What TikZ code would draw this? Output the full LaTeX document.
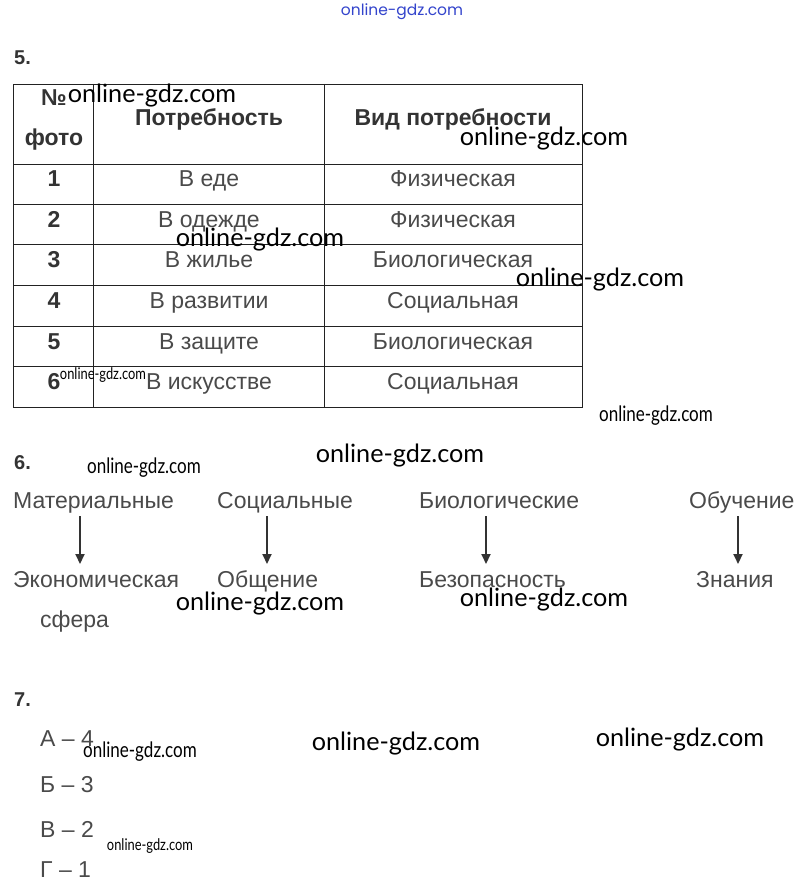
\documentclass[tikz,border=0pt]{standalone}
\usepackage{fontspec}
\setmainfont{Liberation Sans}
\newfontfamily\wmfont{Lato}
\newfontfamily\wmcond[FakeStretch=0.8]{Lato}
\newfontfamily\topwm{Poppins}
\usetikzlibrary{arrows.meta}
\definecolor{txt}{HTML}{4A4A4A}
\definecolor{hdr}{HTML}{333333}
\definecolor{grid}{HTML}{222222}
\definecolor{wmblue}{HTML}{3344CC}
\tikzset{
  body/.style={font=\fontsize{23}{26}\selectfont, text=txt, inner sep=0pt, anchor=base},
  bodyw/.style={body, anchor=base west},
  head/.style={font=\fontsize{23}{26}\selectfont\bfseries, text=hdr, inner sep=0pt, anchor=base},
  secnum/.style={font=\fontsize{20}{24}\selectfont\bfseries, text=hdr, inner sep=0pt, anchor=base west},
  wm/.style={font=\wmfont\fontsize{25.2}{28}\selectfont, text=black, inner sep=0pt},
  wms/.style={font=\wmcond\fontsize{21.3}{24}\selectfont, text=black, inner sep=0pt},
  wmxs/.style={font=\wmcond\fontsize{16.1}{18}\selectfont, text=black, inner sep=0pt},
  tline/.style={draw=grid, line width=0.9pt},
  arr/.style={draw=hdr, line width=2pt, -{Triangle[length=10pt,width=9pt]}}
}
\begin{document}
\begin{tikzpicture}[x=1pt,y=-1pt]
\useasboundingbox[fill=white] (0,0) rectangle (804,893);
% top watermark
\node[font=\topwm\fontsize{15.5}{18}\selectfont, text=wmblue, inner sep=0pt] (wm0) at (402,12) {online-gdz.com};
% ---------- 5 ----------
\node[secnum] (s5) at (14,65) {5.};
% table grid
\draw[tline] (13,84) rectangle (582,407);
\draw[tline] (93,84) -- (93,407);
\draw[tline] (324,84) -- (324,407);
\foreach \yy in {164,204,244,285,326,366} \draw[tline] (13,\yy) -- (582,\yy);
% header
\node[head] (hno) at (54,106) {№};
\node[head] (hfoto) at (54,146) {фото};
\node[head] (hneed) at (209,126) {Потребность};
\node[head] (hkind) at (453,126) {Вид потребности};
% rows
\node[head] (n1) at (54,187) {1};
\node[body] (p1) at (209,187) {В еде};
\node[body] (k1) at (453,187) {Физическая};
\node[head] (n2) at (54,227) {2};
\node[body] (p2) at (209,227) {В одежде};
\node[body] (k2) at (453,227) {Физическая};
\node[head] (n3) at (54,267) {3};
\node[body] (p3) at (209,267) {В жилье};
\node[body] (k3) at (453,267) {Биологическая};
\node[head] (n4) at (54,308) {4};
\node[body] (p4) at (209,308) {В развитии};
\node[body] (k4) at (453,308) {Социальная};
\node[head] (n5) at (54,349) {5};
\node[body] (p5) at (209,349) {В защите};
\node[body] (k5) at (453,349) {Биологическая};
\node[head] (n6) at (54,389) {6};
\node[body] (p6) at (209,389) {В искусстве};
\node[body] (k6) at (453,389) {Социальная};
% ---------- 6 ----------
\node[secnum] (s6) at (14,469) {6.};
\node[bodyw] (mat) at (13,508) {Материальные};
\node[bodyw] (soc) at (217,508) {Социальные};
\node[bodyw] (bio) at (419,508) {Биологические};
\node[bodyw] (obu) at (689,508) {Обучение};
\node[bodyw] (eko) at (13,587) {Экономическая};
\node[bodyw] (sfe) at (40,627) {сфера};
\node[bodyw] (obs) at (217,587) {Общение};
\node[bodyw] (bez) at (419,587) {Безопасность};
\node[bodyw] (zna) at (696,587) {Знания};
\coordinate (a1s) at (80,516);  \coordinate (a1e) at (80,564);
\coordinate (a2s) at (267,516); \coordinate (a2e) at (267,564);
\coordinate (a3s) at (486,516); \coordinate (a3e) at (486,564);
\coordinate (a4s) at (738,516); \coordinate (a4e) at (738,564);
\draw[arr] (a1s) -- (a1e);
\draw[arr] (a2s) -- (a2e);
\draw[arr] (a3s) -- (a3e);
\draw[arr] (a4s) -- (a4e);
% ---------- 7 ----------
\node[secnum] (s7) at (14,706) {7.};
\node[bodyw] (ans1) at (40,746) {А – 4};
\node[bodyw] (ans2) at (40,792) {Б – 3};
\node[bodyw] (ans3) at (40,837) {В – 2};
\node[bodyw] (ans4) at (40,877) {Г – 1};
% ---------- watermarks ----------
\node[wm] (w1) at (152,96) {online-gdz.com};
\node[wm] (w2) at (544,139) {online-gdz.com};
\node[wm] (w3) at (260,240) {online-gdz.com};
\node[wm] (w4) at (600,280) {online-gdz.com};
\node[wmxs] (w5) at (103,375) {online-gdz.com};
\node[wms] (w6) at (656,416) {online-gdz.com};
\node[wm] (w7) at (400,456) {online-gdz.com};
\node[wms] (w8) at (144,468) {online-gdz.com};
\node[wm] (w9) at (260,604) {online-gdz.com};
\node[wm] (w10) at (544,600) {online-gdz.com};
\node[wm] (w11) at (396,744) {online-gdz.com};
\node[wm] (w12) at (680,740) {online-gdz.com};
\node[wms] (w13) at (140,752) {online-gdz.com};
\node[wmxs] (w14) at (150,846) {online-gdz.com};
\end{tikzpicture}
\end{document}
